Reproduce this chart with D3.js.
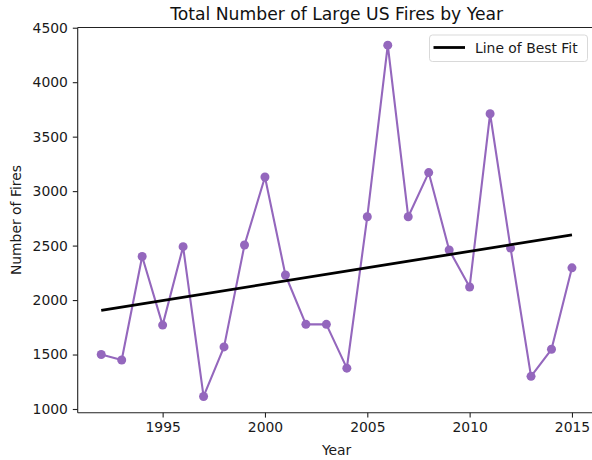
<!DOCTYPE html>
<html>
<head>
<meta charset="utf-8">
<script src="https://cdn.jsdelivr.net/npm/d3@7"></script>
<style>
  html, body { margin: 0; padding: 0; background: #fff; }
  svg { display: block; font-family: "DejaVu Sans", sans-serif; }
</style>
</head>
<body>
<svg id="chart" width="592" height="460"></svg>
<script>
// ---- data ----
const years = [1992, 1993, 1994, 1995, 1996, 1997, 1998, 1999, 2000, 2001, 2002, 2003,
               2004, 2005, 2006, 2007, 2008, 2009, 2010, 2011, 2012, 2013, 2014, 2015];
const fires = [1500, 1450, 2400, 1770, 2490, 1115, 1570, 2505, 3130, 2230, 1777, 1777,
               1375, 2765, 4340, 2765, 3170, 2460, 2120, 3710, 2477, 1300, 1548, 2296];
const xTicks = [1995, 2000, 2005, 2010, 2015];
const yTicks = [1000, 1500, 2000, 2500, 3000, 3500, 4000, 4500];
const titleText = "Total Number of Large US Fires by Year";
const xLabel = "Year";
const yLabel = "Number of Fires";
const legendLabel = "Line of Best Fit";

(function () {
// ---- layout ----
const svg = d3.select("#chart");
const mLeft = 77.7, mRight = 595.5, mTop = 27.5, mBottom = 412.7;

const x = d3.scaleLinear().domain([1990.85, 2016.15]).range([mLeft, mRight]);
const y = d3.scaleLinear().domain([966, 4502]).range([mBottom, mTop]);

// least-squares fit
const n = years.length;
const mx = d3.mean(years), my = d3.mean(fires);
let sxy = 0, sxx = 0;
for (let i = 0; i < n; i++) { sxy += (years[i] - mx) * (fires[i] - my); sxx += (years[i] - mx) ** 2; }
const slope = sxy / sxx, intercept = my - slope * mx;
const fit = years.map(yr => ({ x: yr, y: intercept + slope * yr }));

const purple = "#9467bd";
const data = years.map((yr, i) => ({ x: yr, y: fires[i] }));

// data line
svg.append("path")
  .datum(data)
  .attr("fill", "none")
  .attr("stroke", purple)
  .attr("stroke-width", 2.1)
  .attr("stroke-linejoin", "round")
  .attr("d", d3.line().x(d => x(d.x)).y(d => y(d.y)));

svg.append("g").selectAll("circle")
  .data(data).join("circle")
  .attr("cx", d => x(d.x)).attr("cy", d => y(d.y)).attr("r", 4.5)
  .attr("fill", purple);

// fit line
svg.append("path")
  .datum([fit[0], fit[fit.length - 1]])
  .attr("fill", "none")
  .attr("stroke", "#000")
  .attr("stroke-width", 2.8)
  .attr("d", d3.line().x(d => x(d.x)).y(d => y(d.y)));

// axes
const xAxis = d3.axisBottom(x).tickValues(xTicks).tickFormat(d3.format("d")).tickSize(4.9).tickPadding(4.9);
const yAxis = d3.axisLeft(y).tickValues(yTicks).tickFormat(d3.format("d")).tickSize(4.9).tickPadding(4.9);

const gx = svg.append("g").attr("transform", `translate(0,${mBottom})`).call(xAxis);
const gy = svg.append("g").attr("transform", `translate(${mLeft},0)`).call(yAxis);
[gx, gy].forEach(g => {
  g.select(".domain").remove();
  g.selectAll(".tick line").attr("stroke", "#222").attr("stroke-width", 1.1);
  g.selectAll(".tick text").attr("fill", "#1a1a1a").style("font-size", "13.9px")
    .style("font-family", "DejaVu Sans, sans-serif");
});

// spines
const spine = svg.append("g").attr("stroke", "#222").attr("stroke-width", 1.1).attr("fill", "none");
spine.append("line").attr("x1", mLeft).attr("x2", mLeft).attr("y1", mTop).attr("y2", mBottom);
spine.append("line").attr("x1", mLeft).attr("x2", mRight).attr("y1", mBottom).attr("y2", mBottom);
spine.append("line").attr("x1", mLeft).attr("x2", mRight).attr("y1", mTop).attr("y2", mTop);
spine.append("line").attr("x1", mRight).attr("x2", mRight).attr("y1", mTop).attr("y2", mBottom);

// title and labels
svg.append("text")
  .attr("x", (mLeft + mRight) / 2).attr("y", 19.5)
  .attr("text-anchor", "middle")
  .attr("fill", "#111")
  .style("font-size", "17.2px")
  .text(titleText);

svg.append("text")
  .attr("x", (mLeft + mRight) / 2).attr("y", 455)
  .attr("text-anchor", "middle")
  .attr("fill", "#1a1a1a")
  .style("font-size", "13.9px")
  .text(xLabel);

svg.append("text")
  .attr("transform", `translate(21,${(mTop + mBottom) / 2}) rotate(-90)`)
  .attr("text-anchor", "middle")
  .attr("fill", "#1a1a1a")
  .style("font-size", "13.9px")
  .text(yLabel);

// legend
const lg = svg.append("g");
lg.append("rect")
  .attr("x", 429.5).attr("y", 35).attr("width", 158).attr("height", 26.5)
  .attr("rx", 3).attr("fill", "#fff").attr("fill-opacity", 0.8)
  .attr("stroke", "#d9d9d9").attr("stroke-width", 1);
lg.append("line")
  .attr("x1", 433.5).attr("x2", 465).attr("y1", 47.5).attr("y2", 47.5)
  .attr("stroke", "#000").attr("stroke-width", 2.8);
lg.append("text")
  .attr("x", 475).attr("y", 52.5)
  .attr("fill", "#1a1a1a")
  .style("font-size", "13.9px")
  .text(legendLabel);
})();
</script>
</body>
</html>
